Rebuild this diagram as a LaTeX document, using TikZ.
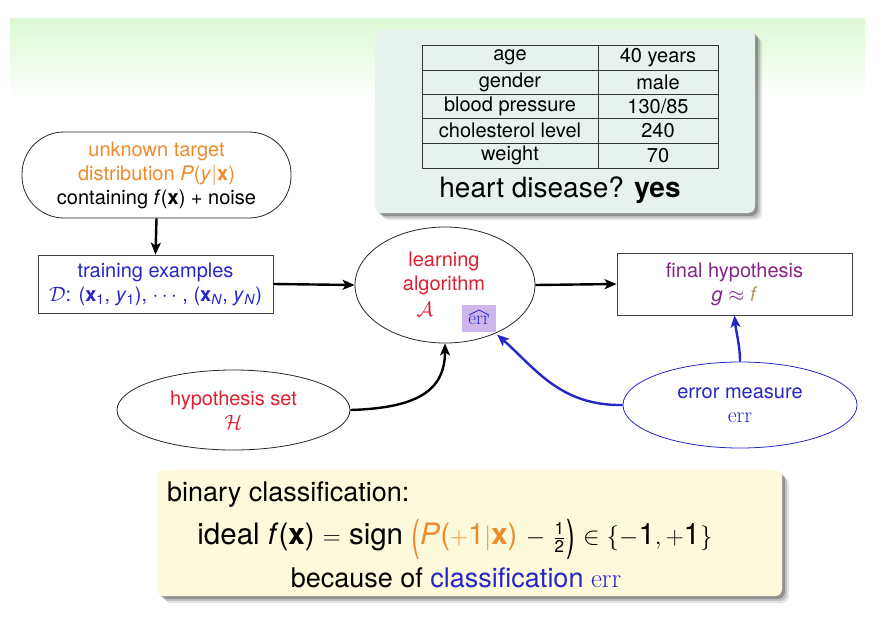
\documentclass[tikz,border=0pt]{standalone}
\usepackage{fontspec}
\setmainfont{TeX Gyre Heros}
\usetikzlibrary{shapes.geometric,arrows.meta,calc}
\newcommand{\serr}{{\fontfamily{lmr}\selectfont err}}
\newcommand{\tallparen}[1]{\raisebox{-0.2em}{\scalebox{0.9}[1.45]{#1}}}
\definecolor{orng}{HTML}{EE8A2C}
\definecolor{rd}{HTML}{DD2030}
\definecolor{bl}{HTML}{2626C8}
\definecolor{prp}{HTML}{862486}
\definecolor{olv}{HTML}{B39A5C}
\definecolor{lav}{HTML}{CDB6EA}
\definecolor{tealbg}{HTML}{E7F2EE}
\definecolor{yelbg}{HTML}{FDFADC}
\definecolor{grn}{HTML}{DDF8D4}
\tikzset{
  fs/.style 2 args={font=\fontsize{#1}{#2}\selectfont},
  arr/.style={-{Stealth[length=12pt,width=10pt,inset=3pt]}, line width=2.4pt},
  box/.style={draw=black!75, line width=0.8pt, align=center, fs={20}{24}},
  oval/.style={ellipse, draw=black!85, line width=0.8pt, align=center, fs={20}{24}},
  cell/.style={fs={20}{22}, inner sep=0pt},
}
\begin{document}
\begin{tikzpicture}[x=1pt,y=-1pt]
\useasboundingbox (0,0) rectangle (889,633);
% green band
\shade[top color=grn, bottom color=white] (10,18) rectangle (865,100);
% table panel
\foreach \o/\a in {7/0.10,5/0.15,3/0.25}
  \fill[black, opacity=\a, rounded corners=7pt] (375+\o,30+\o) rectangle (755+\o,213+\o);
\fill[tealbg, rounded corners=7pt] (375,30) rectangle (755,213);
\draw[black!80, line width=0.8pt] (422,45) rectangle (718,168);
\foreach \yy in {70,94,118,143} \draw[black!80, line width=0.8pt] (422,\yy) -- (718,\yy);
\draw[black!80, line width=0.8pt] (598,45) -- (598,168);
\node[cell] (c1a) at (510,57.5) {age};
\node[cell] (c1b) at (658,57.5) {40 years};
\node[cell] (c2a) at (510,82) {gender};
\node[cell] (c2b) at (658,82) {male};
\node[cell] (c3a) at (510,106) {blood pressure};
\node[cell] (c3b) at (658,106) {130/85};
\node[cell] (c4a) at (510,130.5) {cholesterol level};
\node[cell] (c4b) at (658,130.5) {240};
\node[cell] (c5a) at (510,155.5) {weight};
\node[cell] (c5b) at (658,155.5) {70};
\node[fs={28}{32}, inner sep=0pt] (heart) at (560,190) {heart disease? \textbf{yes}};
% bottom panel
\foreach \o/\a in {7/0.10,5/0.15,3/0.25}
  \fill[black, opacity=\a, rounded corners=7pt] (157+\o,470+\o) rectangle (782+\o,596+\o);
\fill[yelbg, rounded corners=7pt] (157,470) rectangle (782,596);
\node[fs={27}{30}, anchor=west, inner sep=0pt] (bin) at (167,495) {binary classification:};
\node[fs={29.5}{32}, inner sep=0pt] (ideal) at (455,539) {ideal \textit{f}(\textbf{x}) $=$ sign \textcolor{orng}{\tallparen{(}\textit{P}($+$1$|$\textbf{x})} $-$ $\frac{\mbox{\fontsize{17}{17}\selectfont 1}}{\mbox{\fontsize{17}{17}\selectfont 2}}$\kern1pt\tallparen{)} $\in \{-\mbox{1},+\mbox{1}\}$};
\node[fs={27}{30}, inner sep=0pt] (because) at (456,578) {because of \textcolor{bl}{classification \serr}};
% main nodes
\node[box, draw=black!85, rounded corners=42pt, minimum width=269pt, minimum height=86pt, inner sep=2pt] (target) at (156.5,175)
  {\textcolor{orng}{unknown target}\\\textcolor{orng}{distribution \textit{P}(\textit{y}$|$\textbf{x})}\\containing \textit{f}(\textbf{x}) + noise};
\node[box, minimum width=235pt, minimum height=58pt, inner sep=1pt, text=bl] (train) at (155.5,284)
  {training examples\\$\mathcal{D}$: (\textbf{x}\textsubscript{1}, \textit{y}\textsubscript{1}), $\cdots$ , (\textbf{x}\textsubscript{\textit{N}}, \textit{y}\textsubscript{\textit{N}})};
\node[oval, minimum width=180pt, minimum height=116pt] (learn) at (445,285) {};
\node[fs={20}{24}, text=rd, align=center, inner sep=0pt] (learntxt) at (444,273) {learning\\algorithm};
\node[fs={20}{24}, text=rd, inner sep=0pt] (calA) at (425,309) {$\mathcal{A}$};
\node[fill=lav, minimum width=34pt, minimum height=27pt, inner sep=0pt, fs={19}{20}, text=bl, text depth=0pt] (errhat) at (479,318) {\raisebox{-5pt}{\serr}};
\draw[bl, line width=0.7pt] ($(errhat.center)+(-10,-3)$) -- ($(errhat.center)+(0,-8)$) -- ($(errhat.center)+(10,-3)$);
\node[box, minimum width=235pt, minimum height=62pt, text=prp] (final) at (734.5,284)
  {final hypothesis\\\textit{g} $\approx$ \textcolor{olv}{\textit{f}}};
\node[oval, minimum width=233pt, minimum height=80pt, text=rd] (hyp) at (233.5,410) {hypothesis set\\$\mathcal{H}$};
\node[oval, draw=bl, minimum width=234pt, minimum height=86pt, text=bl] (errm) at (740,405) {error measure\\{\fontsize{22}{24}\selectfont\serr}};
% connectors
\draw[arr] (target.south) -- (train.north);
\draw[arr] (train.east) -- (learn.west);
\draw[arr] (learn.east) -- (final.west);
\draw[arr] (hyp.east) .. controls (415,408) and (445,392) .. (learn.south);
\coordinate (errtip) at ($(errhat.south east)+(1,3)$);
\draw[arr, bl] (errm.west) .. controls (560,406) and (535,368) .. (errtip);
\draw[arr, bl] (errm.north) .. controls (740,345) and (736,332) .. (final.south);
\end{tikzpicture}
\end{document}
